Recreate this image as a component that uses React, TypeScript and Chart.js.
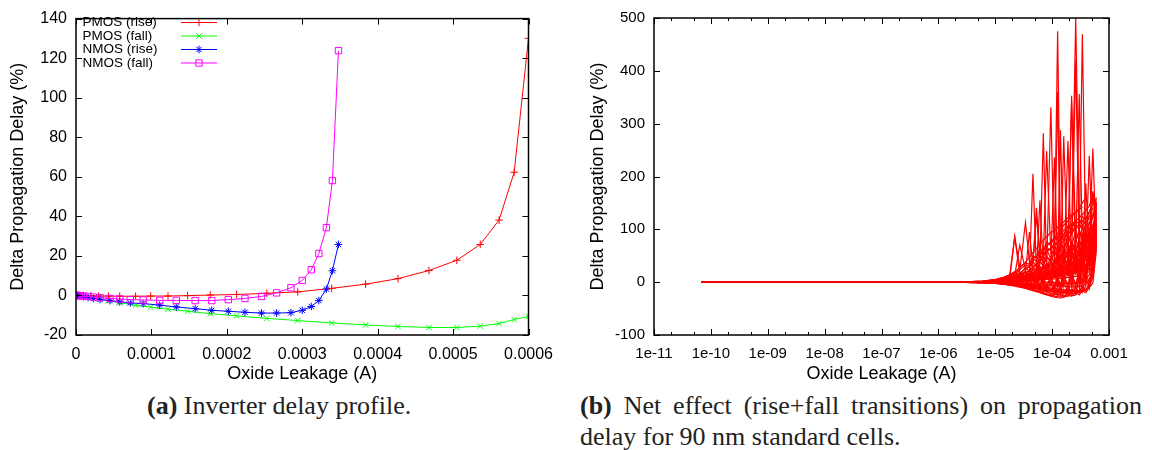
import React, { useEffect, useRef } from 'react';
import { Chart, registerables } from 'chart.js';

Chart.register(...registerables);

const SANS = '"Liberation Sans", Arial, Helvetica, sans-serif';
const SERIF = '"Liberation Serif", "Times New Roman", Times, serif';

// ---------------- Panel (a): inverter delay profile ----------------
const pmosLeakage = [0, 2e-6, 5e-6, 1e-5, 2e-5, 3e-5, 4.3e-5, 5.8e-5, 7.9e-5, 9.9e-5, 1.22e-4, 1.48e-4, 1.78e-4, 2.13e-4, 2.53e-4, 2.94e-4, 3.39e-4, 3.84e-4, 4.27e-4, 4.68e-4, 5.05e-4, 5.36e-4, 5.61e-4, 5.81e-4, 6.0e-4];
const pmosRise = [0, 0, -0.05, -0.1, -0.2, -0.3, -0.3, -0.4, -0.4, -0.3, -0.3, -0.1, 0.2, 0.5, 1.1, 1.8, 3.6, 5.7, 8.5, 12.6, 17.8, 25.8, 38.1, 62.3, 130];
const pmosFall = [0, -0.1, -0.3, -0.6, -1.2, -1.8, -2.7, -3.7, -5.0, -5.9, -7.0, -8.0, -9.2, -10.3, -11.6, -12.7, -13.9, -14.9, -15.7, -16.2, -16.2, -15.5, -14.2, -12.2, -10.6];
const nmosLeakage = [0, 1e-6, 2.5e-6, 5e-6, 1e-5, 1.6e-5, 2.3e-5, 3.2e-5, 4.5e-5, 5.8e-5, 7.2e-5, 8.9e-5, 1.11e-4, 1.33e-4, 1.58e-4, 1.80e-4, 2.02e-4, 2.24e-4, 2.46e-4, 2.66e-4, 2.85e-4, 3.0e-4, 3.12e-4, 3.22e-4, 3.32e-4, 3.40e-4, 3.48e-4];
const nmosRise = [0, -0.05, -0.1, -0.2, -0.6, -1.0, -1.5, -2.0, -2.6, -3.2, -3.8, -4.1, -4.9, -5.8, -6.7, -7.5, -8.0, -8.5, -8.9, -8.9, -8.7, -7.5, -5.6, -2.6, 3.2, 12.5, 25.8];
const nmosFall = [0, 0, -0.05, -0.1, -0.3, -0.5, -0.8, -1.1, -1.5, -1.8, -2.1, -2.3, -2.5, -2.5, -2.6, -2.6, -2.1, -1.5, -0.5, 1.3, 3.9, 7.6, 13.0, 21.2, 34.3, 58.1, 123.8];

const seriesLabelsA = ['PMOS (rise)', 'PMOS (fall)', 'NMOS (rise)', 'NMOS (fall)'];
const seriesColorsA = ['#ff0000', '#00ff00', '#0000ff', '#ff00ff'];
const markerStylesA = ['cross', 'crossRot', 'star', 'rect'];

const xTickValuesA = [0, 0.0001, 0.0002, 0.0003, 0.0004, 0.0005, 0.0006];
const xTickLabelsA = ['0', '0.0001', '0.0002', '0.0003', '0.0004', '0.0005', '0.0006'];
const yTickValuesA = [-20, 0, 20, 40, 60, 80, 100, 120, 140];
const yTickLabelsA = ['-20', '0', '20', '40', '60', '80', '100', '120', '140'];

// ---------------- Panel (b): net effect on 90 nm standard cells ----------------
const netLeakage = [6.7e-11, 1e-6, 3e-6, 6e-6, 1e-5, 1.4e-5, 1.8e-5, 2.2e-5, 2.7e-5, 3.4e-5, 4e-5, 4.6e-5, 5.3e-5, 6.1e-5, 7e-5, 8e-5, 9.5e-5, 1.1e-4, 1.25e-4, 1.4e-4, 1.6e-4, 1.9e-4, 2.2e-4, 2.6e-4, 3e-4, 3.4e-4, 3.9e-4, 4.5e-4, 5.2e-4, 6e-4];

const cellB1 = [0, 0, -0.5, -1, -2, -3.5, -5, -6.5, -8.5, -11, -13, -15, -17, -19.5, -22, -24, -26.5, -28.5, -29.5, -30, -29, -20, 60, null, null, null, null, null, null, null];
const cellB2 = [0, 0, -0.4, -0.9, -1.8, -3, -4.3, -5.8, -7.5, -10, -12, -14, -16, -18, -20, -22, -24.5, -26.5, -27.5, -28, -28, -26, -18, 90, null, null, null, null, null, null];
const cellB3 = [0, 0, -0.3, -0.7, -1.5, -2.5, -3.6, -4.8, -6.2, -8, -9.5, -11, -12.8, -14.5, -16.5, -18, -20, -22, -23.5, -24.5, -25.5, -26, -26, -24, -18, 70, null, null, null, null];
const cellB4 = [0, 0, -0.2, -0.5, -1.2, -2, -3, -4, -5.2, -6.8, -8, -9.5, -11, -12.5, -14, -15.5, -17, -18.5, -19.5, -20.5, -21.5, -22, -22, -21, -18, -10, 110, null, null, null];
const cellB5 = [0, 0, -0.2, -0.4, -0.9, -1.5, -2.3, -3.2, -4.2, -5.5, -6.5, -7.8, -9, -10.2, -11.5, -12.8, -14, -15, -16, -16.8, -17.5, -18, -18, -18, -17.5, -17, -15, -8, 20, 120];
const cellB6 = [0, 0, -0.1, -0.3, -0.7, -1.2, -1.8, -2.5, -3.3, -4.4, -5.3, -6.2, -7.2, -8.2, -9.3, -10.3, -11.5, -12.5, -13.3, -14, -15, -15.8, -16, -16, -15.5, -14.5, -13, -10, -2, 60];
const cellB7 = [0, 0, -0.6, -1.3, -2.5, -4, -5.8, -7.5, -9.5, -12, -14, -16, -18, -20, -22, -23, -24, -24, -22, -12, 40, null, null, null, null, null, null, null, null, null];
const cellB8 = [0, 0, -0.3, -0.6, -1.3, -2.2, -3.2, -4.3, -5.5, -7, -8.3, -9.5, -10.8, -12, -13.3, -14.5, -15.8, -17, -17.8, -18.5, -19.2, -19.8, -20, -20, -19.5, -18, -8, 90, null, null];
const cellC1 = [0, 0, 0.5, 2, 5, 9, 14, 86, 28, 38, 48, 56, 64, 72, 80, 86, 94, 98, 104, 108, 114, 122, 128, 132, 138, 142, null, null, null, null];
const cellC2 = [0, 0, 0.4, 1.6, 4, 7, 11, 16, 22, 113, 37, 44, 50, 56, 62, 70, 76, 80, 86, 92, 98, 104, 110, 116, 122, 128, 136, 144, 168, 150];
const cellC3 = [0, 0, 0.3, 1.3, 3, 6, 9, 13, 70, 24, 30, 36, 141, 46, 52, 58, 64, 70, 475, 80, 86, 92, 98, 104, 110, 116, 122, 130, 140, null];
const cellC4 = [0, 0, 0.3, 1.1, 2.6, 5, 8, 11, 15, 20, 95, 29, 34, 39, 44, 248, 54, 60, 66, 72, 78, 84, 90, 500, 102, 108, 114, 120, 128, 145];
const cellC5 = [0, 0, 0.2, 0.9, 2.2, 4, 6.5, 9, 14, 12, 24, 205, 22, 40, 30, 48, 38, 60, 50, 70, 62, 80, 341, 78, 98, 86, 110, 98, 125, 130];
const cellC6 = [0, 0, 0.2, 0.8, 2, 3.5, 5.5, 10, 8, 18, 12, 26, 18, 34, 282, 28, 48, 36, 58, 44, 66, 52, 76, 60, 356, 72, 96, 84, 108, 120];
const cellC7 = [0, 0, 0.2, 0.7, 1.7, 3, 5, 7, 11, 9, 17, 13, 25, 19, 33, 25, 331, 30, 50, 38, 62, 46, 72, 54, 82, 469, 70, 94, 80, 110];
const cellC8 = [0, 0, 0.1, 0.6, 1.5, 2.6, 4, 5.5, 9, 7, 15, 10, 22, 14, 30, 18, 40, 236, 26, 50, 32, 60, 40, 421, 48, 80, 58, 94, 70, 100];
const cellC9 = [0, 0, 0.1, 0.5, 1.2, 2.2, 3.5, 5, 6.5, 11, 8, 16, 10, 22, 13, 30, 18, 38, 360, 24, 48, 30, 58, 36, 70, 44, 187, 54, 92, 90];
const cellC10 = [0, 0, 0.1, 0.4, 1, 1.8, 2.8, 4, 7, 5, 11, 7, 15, 9, 20, 12, 26, 16, 32, 288, 22, 44, 28, 54, 34, 66, 42, 239, 52, 80];
const cellC11 = [0, 0, 0.1, 0.4, 0.9, 1.5, 2.3, 3.2, 5, 4, 8, 6, 11, 8, 14, 10, 18, 13, 23, 16, 276, 20, 36, 24, 44, 30, 52, 38, 172, 70];
const cellC12 = [0, 0, 0.1, 0.3, 0.8, 1.3, 2, 2.8, 3.7, 6, 4.5, 9, 6, 12, 8, 16, 10, 20, 13, 25, 16, 267, 20, 36, 24, 44, 30, 54, 253, 60];
const cellC13 = [0, 0, 0, 0.3, 0.7, 1.1, 1.7, 2.4, 3.2, 4, 7, 5, 10, 7, 13, 9, 17, 11, 21, 14, 26, 17, 353, 24, 36, 28, 44, 34, 56, 150];
const cellC14 = [0, 0, 0.2, 1, 2.5, 4.5, 7, 86, 14, 18, 22, 28, 35, 42, 50, 57, 64, 70, 76, 82, 90, 98, 106, 115, null, null, null, null, null, null];
const cellC15 = [0, 0, 0.3, 1.2, 3, 5.5, 9, 13, 18, 24, 31, 38, 126, 52, 60, 68, 76, 84, 92, 100, 108, 116, 124, 132, 140, 150, 160, null, null, null];
const cellC16 = [0, 0, 0.1, 0.5, 1.3, 2.5, 4, 6, 8.5, 11, 14, 17, 20, 155, 27, 31, 35, 39, 43, 47, 52, 57, 62, 67, 72, 78, 85, 93, 105, 135];
const cellC17 = [0, 0, 0, 0.2, 0.5, 1, 1.5, 2, 2.6, 3.3, 4, 4.8, 5.5, 6.3, 7, 8, 9, 10, 11, 12, 13.5, 15, 17, 19, 21, 24, 28, 34, 45, 100];
const cellC18 = [0, 0, 0, 0.1, 0.3, 0.5, 0.8, 1.1, 1.5, 2, 2.5, 3, 3.5, 4, 4.5, 5, 5.5, 6, 6.5, 7, 8, 9, 10, 11, 12.5, 14, 16, 20, 30, 70];
const cellC19 = [0, 0, 0, 0, 0.1, 0.2, 0.3, 0.4, 0.5, 0.5, 0.5, 0.5, 0.5, 0.4, 0.3, 0.2, 0, -0.3, -0.6, -1, -1.3, -1.5, -1.5, -1.2, -0.5, 1, 5, 15, 40, 120];
const cellC20 = [0, 0, -0.1, -0.2, -0.4, -0.7, -1, -1.4, -1.8, -2.4, -3, -3.5, -4, -4.5, -5, -5.5, -6, -6.5, -7, -7.5, -8, -8.5, -9, -9, -8.5, -7, -4, 5, 30, 100];
const cellC21 = [0, 0, -0.1, -0.3, -0.7, -1.2, -1.8, -2.5, -3.3, -4.3, -5.2, -6, -7, -8, -9, -10, -11, -12, -13, -13.5, -14, -14.5, -14, -12, -6, 20, 90, null, null, null];
const cellC22 = [0, 0, 0.2, 0.7, 1.6, 3, 4.5, 6.5, 9, 12, 15, 18, 21, 24, 27, 30, 33, 36, 40, 44, 48, 53, 58, 63, 69, 75, 82, 91, 102, 130];
const cellC23 = [0, 0, 0, 0.2, 0.6, 1.2, 2, 3, 5, 3.5, 7, 4.5, 9, 5.5, 11, 6.5, 14, 8, 17, 10, 20, 12, 24, 15, 28, 18, 33, 22, 60, 110];
const cellC24 = [0, 0, -0.1, -0.2, -0.3, -0.5, -0.3, -1, 0.5, -2, 2, -3, 4, -4, 6, -5, 8, -6, 10, -6, 12, -5, 15, -3, 20, 2, 28, 40, 75, null];
const cellD1 = [0, 0, 0.2, 0.6, 1.5, 3, 2, 6, 3, 10, 4, 16, 6, 24, 8, 30, 10, 36, 12, 42, 14, 48, 16, 56, 20, 64, 24, 72, 30, 110];
const cellD2 = [0, 0, -0.2, -0.5, -1, 1, -2, 3, -3, 6, -4, 10, -5, 14, -6, 18, -7, 22, -8, 26, -8, 30, -7, 34, -5, 40, -2, 48, 10, 90];
const cellD3 = [0, 0, -0.3, -0.8, -2, -3, -1, -6, -2, -10, -3, -14, -2, -17, 0, -20, 2, -22, 4, -24, 6, -23, 8, -21, 10, -18, 12, -12, 30, 80];
const cellD4 = [0, 0, 0.3, 1, 2.5, 5, 8, 12, 10, 20, 16, 30, 22, 40, 30, 50, 38, 58, 44, 66, 50, 74, 56, 82, 62, 90, 70, 100, 85, 140];
const cellD5 = [0, 0, 0.4, 1.5, 3.5, 7, 12, 18, 14, 28, 20, 40, 28, 52, 36, 62, 44, 72, 52, 82, 60, 90, 68, 98, 76, 106, 84, 114, 95, 150];
const cellD6 = [0, 0, -0.4, -1, -2.2, -4, -6, -4, -9, -6, -13, -9, -17, -12, -20, -15, -24, -17, -26, -19, -27, -20, -26, -19, -24, -16, -20, -10, 10, 70];
const cellD7 = [0, 0, 0.1, 0.5, 1.2, 2.5, 5, 2, 10, 4, 18, 6, 26, 8, 34, 10, 42, 12, 50, 14, 58, 16, 66, 20, 74, 24, 82, 30, 90, 120];
const cellD8 = [0, 0, 0, 0.3, 0.8, 1.5, 1, 4, 2, 8, 3, 12, 5, 17, 7, 22, 10, 28, 13, 34, 16, 40, 20, 46, 24, 52, 28, 60, 40, 100];
const cellD9 = [0, 0, 0.2, 0.8, 2, 4, 6, 9, 7, 14, 10, 20, 14, 28, 18, 36, 24, 44, 30, 52, 36, 60, 42, 66, 48, 72, 54, 80, 62, 130];
const cellD10 = [0, 0, -0.1, -0.4, -1, -2, 0, -4, 2, -6, 4, -8, 6, -10, 8, -11, 10, -12, 12, -12, 14, -11, 16, -9, 18, -6, 20, -2, 35, 90];
const cellD11 = [0, 0, 0.5, 1.8, 4.5, 8, 13, 19, 24, 32, 30, 44, 40, 56, 50, 66, 60, 76, 70, 86, 80, 96, 90, 106, 100, 116, 110, 126, 120, 160];
const cellD12 = [0, 0, 0.5, 2, 5, 9, 14, 20, 28, 36, 34, 50, 46, 64, 58, 76, 70, 86, 80, 96, 90, 106, 100, 116, 110, 124, 118, 134, 150, 145];
const cellD13 = [0, 0, 0.1, 0.4, 1, 2, 3.5, 2, 6, 3, 10, 4, 14, 6, 20, 8, 26, 10, 32, 12, 38, 14, 44, 16, 50, 20, 56, 26, 70, 110];
const cellD14 = [0, 0, 0, 0.2, 0.5, 1, 0.5, 2, 1, 3, 1.5, 5, 2, 8, 3, 12, 4, 18, 6, 24, 8, 30, 10, 36, 12, 42, 16, 50, 24, 80];
const cellD15 = [0, 0, -0.2, -0.6, -1.4, -2.5, -4, -2, -6, -3, -9, -4, -12, -5, -15, -6, -18, -8, -20, -9, -22, -10, -22, -9, -20, -6, -16, 0, 15, 85];
const cellD16 = [0, 0, 0.3, 1.2, 3, 6, 9, 13, 11, 18, 14, 24, 19, 30, 24, 36, 29, 42, 34, 48, 39, 54, 44, 60, 49, 66, 54, 72, 80, 125];

const netCells = [cellB1, cellB2, cellB3, cellB4, cellB5, cellB6, cellB7, cellB8,
  cellC1, cellC2, cellC3, cellC4, cellC5, cellC6, cellC7, cellC8, cellC9, cellC10, cellC11, cellC12,
  cellC13, cellC14, cellC15, cellC16, cellC17, cellC18, cellC19, cellC20, cellC21, cellC22, cellC23, cellC24,
  cellD1, cellD2, cellD3, cellD4, cellD5, cellD6, cellD7, cellD8, cellD9, cellD10, cellD11, cellD12,
  cellD13, cellD14, cellD15, cellD16];

const xTickValuesB = [1e-11, 1e-10, 1e-9, 1e-8, 1e-7, 1e-6, 1e-5, 1e-4, 1e-3];
const xTickLabelsB = ['1e-11', '1e-10', '1e-09', '1e-08', '1e-07', '1e-06', '1e-05', '1e-04', '0.001'];
const xMinorFactorsB = [2, 5];
const yTickValuesB = [-100, 0, 100, 200, 300, 400, 500];
const yTickLabelsB = ['-100', '0', '100', '200', '300', '400', '500'];

const AXIS_TITLE = 'Delta Propagation Delay (%)';
const X_TITLE = 'Oxide Leakage (A)';

// ---------------- helpers ----------------
function drawMarker(ctx: CanvasRenderingContext2D, style: string, x: number, y: number, r: number, color: string) {
  ctx.save();
  ctx.strokeStyle = color;
  ctx.lineWidth = 1;
  ctx.beginPath();
  if (style === 'cross' || style === 'star') {
    ctx.moveTo(x - r, y); ctx.lineTo(x + r, y);
    ctx.moveTo(x, y - r); ctx.lineTo(x, y + r);
  }
  if (style === 'crossRot' || style === 'star') {
    const d = r * 0.7071;
    ctx.moveTo(x - d, y - d); ctx.lineTo(x + d, y + d);
    ctx.moveTo(x - d, y + d); ctx.lineTo(x + d, y - d);
  }
  if (style === 'rect') {
    const s = r * 0.7071;
    ctx.rect(x - s, y - s, 2 * s, 2 * s);
  }
  ctx.stroke();
  ctx.restore();
}

function makeFramePlugin(minorValues: number[]) {
  return {
    id: 'gnuFrame',
    afterDatasetsDraw(chart: any) {
      const { ctx, chartArea } = chart;
      const { left, right, top, bottom } = chartArea;
      const xs = chart.scales.x;
      const ys = chart.scales.y;
      ctx.save();
      ctx.strokeStyle = '#000';
      ctx.lineWidth = 1;
      ctx.beginPath();
      xs.ticks.forEach((t: any) => {
        const p = Math.round(xs.getPixelForValue(t.value)) + 0.5;
        ctx.moveTo(p, bottom); ctx.lineTo(p, bottom - 6);
        ctx.moveTo(p, top); ctx.lineTo(p, top + 6);
      });
      minorValues.forEach((v) => {
        const p = Math.round(xs.getPixelForValue(v)) + 0.5;
        ctx.moveTo(p, bottom); ctx.lineTo(p, bottom - 3);
        ctx.moveTo(p, top); ctx.lineTo(p, top + 3);
      });
      ys.ticks.forEach((t: any) => {
        const p = Math.round(ys.getPixelForValue(t.value)) + 0.5;
        ctx.moveTo(left, p); ctx.lineTo(left + 6, p);
        ctx.moveTo(right, p); ctx.lineTo(right - 6, p);
      });
      ctx.stroke();
      ctx.lineWidth = 1.5;
      ctx.strokeRect(left, top, right - left, bottom - top);
      ctx.restore();
    },
  };
}

const keyPluginA = {
  id: 'gnuKey',
  afterDraw(chart: any) {
    const ctx = chart.ctx;
    const rows = [22.5, 36, 49.5, 63];
    ctx.save();
    ctx.font = `13.5px ${SANS}`;
    ctx.textBaseline = 'middle';
    ctx.textAlign = 'left';
    seriesLabelsA.forEach((label, i) => {
      const y = rows[i];
      ctx.fillStyle = '#000';
      ctx.fillText(label, 82.5, y);
      ctx.strokeStyle = seriesColorsA[i];
      ctx.lineWidth = 1;
      ctx.beginPath();
      ctx.moveTo(181, y);
      ctx.lineTo(217, y);
      ctx.stroke();
      drawMarker(ctx, markerStylesA[i], 199, y, markerStylesA[i] === 'rect' ? 4.5 : 3.8, seriesColorsA[i]);
    });
    ctx.restore();
  },
};

function axisCommon(tickValues: number[], tickLabels: string[], tickSize: number, title: string, titlePad: any, tickPad: number) {
  return {
    afterBuildTicks: (axis: any) => {
      axis.ticks = tickValues.map((v) => ({ value: v }));
    },
    ticks: {
      autoSkip: false,
      maxRotation: 0,
      minRotation: 0,
      padding: tickPad,
      color: '#000',
      font: { family: SANS, size: tickSize },
      callback: (_v: any, i: number) => tickLabels[i],
    },
    grid: { display: false, drawTicks: false },
    border: { display: false },
    title: {
      display: true,
      text: title,
      color: '#000',
      font: { family: SANS, size: 18 },
      padding: titlePad,
    },
  };
}

function PanelA() {
  const ref = useRef<HTMLCanvasElement>(null);
  useEffect(() => {
    const seriesX = [pmosLeakage, pmosLeakage, nmosLeakage, nmosLeakage];
    const seriesY = [pmosRise, pmosFall, nmosRise, nmosFall];
    const datasets = seriesLabelsA.map((label, i) => ({
      label,
      data: seriesX[i].map((x, j) => ({ x, y: seriesY[i][j] })),
      borderColor: seriesColorsA[i],
      backgroundColor: 'rgba(0,0,0,0)',
      borderWidth: 1,
      tension: 0,
      pointStyle: markerStylesA[i],
      pointRadius: markerStylesA[i] === 'rect' ? 4.5 : 3.8,
      pointBorderWidth: 1,
      pointBorderColor: seriesColorsA[i],
      pointBackgroundColor: 'rgba(0,0,0,0)',
      order: 3 - i,
    }));
    const chart = new Chart(ref.current as HTMLCanvasElement, {
      type: 'line',
      data: { datasets },
      options: {
        animation: false,
        responsive: false,
        devicePixelRatio: 1,
        layout: { padding: { left: 0, right: 41.5, top: 10, bottom: 5 } },
        plugins: { legend: { display: false }, tooltip: { enabled: false } },
        scales: {
          x: {
            type: 'linear',
            min: 0,
            max: 0.0006,
            ...axisCommon(xTickValuesA, xTickLabelsA, 16, X_TITLE, { top: 0, bottom: 0 }, 10),
            afterFit: (s: any) => { s.height = 50; },
          },
          y: {
            type: 'linear',
            min: -20,
            max: 140,
            ...axisCommon(yTickValuesA, yTickLabelsA, 16, AXIS_TITLE, { top: 7, bottom: 0 }, 9),
            afterFit: (s: any) => { s.width = 76; },
          },
        },
      } as any,
      plugins: [makeFramePlugin([]), keyPluginA],
    });
    return () => chart.destroy();
  }, []);
  return <canvas ref={ref} width={570} height={390} style={{ position: 'absolute', left: 0, top: 0, width: 570, height: 390 }} />;
}

function PanelB() {
  const ref = useRef<HTMLCanvasElement>(null);
  useEffect(() => {
    const datasets = netCells.map((cell, i) => ({
      label: `cell ${i + 1}`,
      data: netLeakage.map((x, j) => ({ x, y: cell[j] })),
      borderColor: '#ff0000',
      backgroundColor: 'rgba(0,0,0,0)',
      borderWidth: 1.2,
      tension: 0,
      pointRadius: 0,
      spanGaps: false,
    }));
    const minor: number[] = [];
    xTickValuesB.slice(0, -1).forEach((d) => xMinorFactorsB.forEach((f) => minor.push(d * f)));
    const chart = new Chart(ref.current as HTMLCanvasElement, {
      type: 'line',
      data: { datasets },
      options: {
        animation: false,
        responsive: false,
        devicePixelRatio: 1,
        layout: { padding: { left: 0, right: 43, top: 10, bottom: 5 } },
        plugins: { legend: { display: false }, tooltip: { enabled: false } },
        scales: {
          x: {
            type: 'logarithmic',
            min: 1e-11,
            max: 1e-3,
            ...axisCommon(xTickValuesB, xTickLabelsB, 15, X_TITLE, { top: 0, bottom: 0 }, 10),
            afterFit: (s: any) => { s.height = 50; },
          },
          y: {
            type: 'linear',
            min: -100,
            max: 500,
            ...axisCommon(yTickValuesB, yTickLabelsB, 15, AXIS_TITLE, { top: 11, bottom: 0 }, 9),
            afterFit: (s: any) => { s.width = 78; },
          },
        },
      } as any,
      plugins: [makeFramePlugin(minor)],
    });
    return () => chart.destroy();
  }, []);
  return <canvas ref={ref} width={576} height={390} style={{ position: 'absolute', left: 576, top: 0, width: 576, height: 390 }} />;
}

export default function App() {
  const cap: React.CSSProperties = {
    position: 'absolute',
    top: 390,
    fontFamily: SERIF,
    fontSize: 26,
    lineHeight: '31px',
    color: '#222',
  };
  return (
    <div style={{ position: 'fixed', left: 0, top: 0, width: 1152, height: 450, background: '#fff', overflow: 'hidden' }}>
      <PanelA />
      <PanelB />
      <div style={{ ...cap, left: 147, whiteSpace: 'nowrap' }}>
        <b>(a)</b> Inverter delay profile.
      </div>
      <div style={{ ...cap, left: 580, width: 562, textAlign: 'justify' }}>
        <b>(b)</b> Net effect (rise+fall transitions) on propagation delay for 90 nm standard cells.
      </div>
    </div>
  );
}
